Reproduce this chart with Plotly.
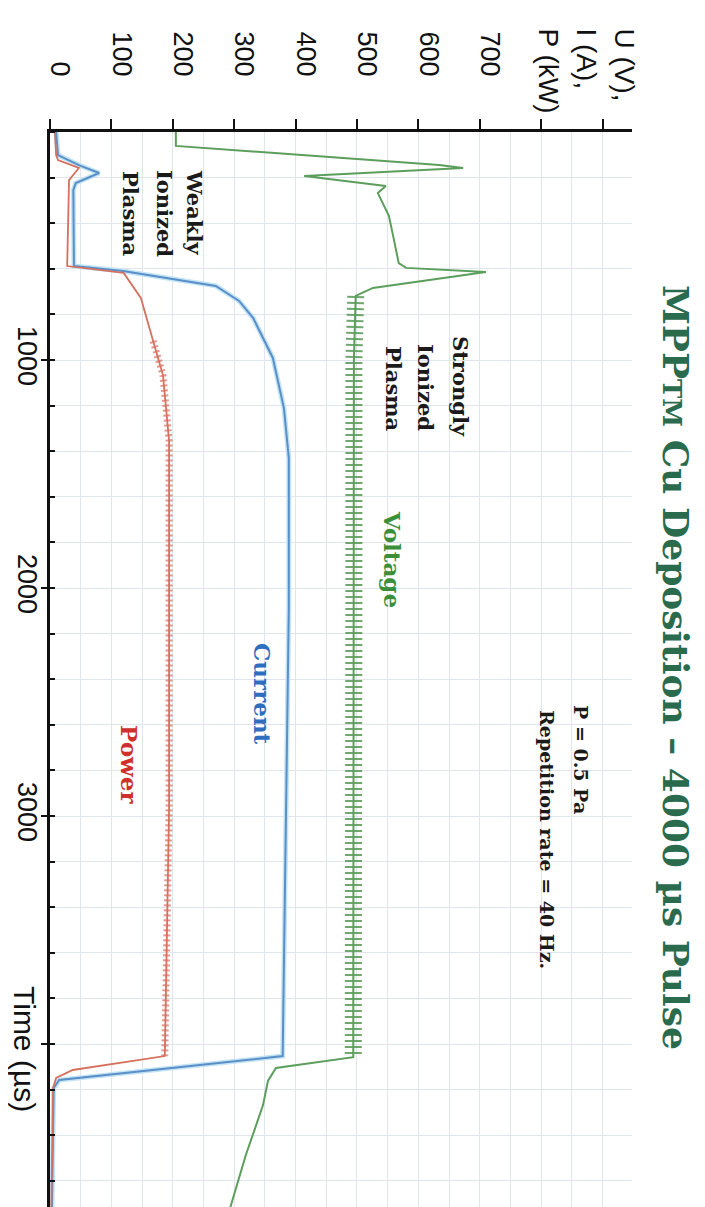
import plotly.graph_objects as go

# ---------------- data ----------------
# time in microseconds, values in V / A / kW
volt_t = [0, 61, 145, 158, 193, 237, 268, 300, 368, 470, 575, 596, 614, 684, 719,
          1000, 2000, 3000, 4058, 4105, 4162, 4268, 4487, 4750]
volt_v = [205, 205, 634, 673, 414, 547, 534, 540, 552, 560, 568, 580, 710, 526, 498,
          495, 495, 494, 494, 368, 355, 347, 319, 290]

cur_t = [0, 101, 145, 180, 224, 254, 588, 610, 675, 741, 816, 991, 1211, 1430,
         2088, 2965, 4053, 4158, 4193, 4750]
cur_v = [10, 13, 47, 80, 42, 38, 39, 119, 270, 308, 331, 363, 381, 389,
         389, 384, 379, 15, 6, 3]

pow_t = [0, 101, 123, 158, 211, 588, 618, 728, 917, 1066, 1355, 2965, 4053,
         4114, 4149, 4193, 4750]
pow_v = [8, 10, 13, 47, 31, 28, 120, 148, 168, 184, 194, 194, 187,
         37, 10, 5, 2]

value_ticks = [0, 100, 200, 300, 400, 500, 600, 700, 800, 900]
value_labels = ["0", "100", "200", "300", "400", "500", "600", "700", "", ""]
time_ticks = [1000, 2000, 3000, 4000]
time_labels = ["1000", "2000", "3000", ""]

# rippling parts of the pulse
volt_ripple_start, volt_ripple_end = 719, 4058
pow_ripple_start, pow_ripple_end = 917, 4053

# ---------------- layout geometry ----------------
W, H = 705, 1207
ML, MR, MT, MB = 42, 81, 124, 0
X_MAX, T_MAX = 948, 4750


def pxx(x):
    return (x - ML) / (W - ML - MR)


def pxy(y):
    return 1 - (y - MT) / (H - MT - MB)


GRID = "#dfe5ea"
SERIF = "DejaVu Serif"
SANS = "Liberation Sans"

fig = go.Figure()

# current
fig.add_trace(go.Scatter(x=cur_v, y=cur_t, mode="lines",
                         line=dict(color="#c3e4f4", width=5), hoverinfo="skip"))
fig.add_trace(go.Scatter(x=cur_v, y=cur_t, mode="lines",
                         line=dict(color="#5a8fc8", width=2), hoverinfo="skip"))

# power
p_idx = [i for i, t in enumerate(pow_t) if pow_ripple_start <= t <= pow_ripple_end]
fig.add_trace(go.Scatter(x=[pow_v[i] for i in p_idx], y=[pow_t[i] for i in p_idx], mode="lines",
                         line=dict(color="rgba(214,110,95,0.7)", width=7, dash="2px,3px"),
                         hoverinfo="skip"))
fig.add_trace(go.Scatter(x=pow_v, y=pow_t, mode="lines",
                         line=dict(color="#d6705f", width=1.8), hoverinfo="skip"))

# voltage
v_idx = [i for i, t in enumerate(volt_t) if volt_ripple_start <= t <= volt_ripple_end]
fig.add_trace(go.Scatter(x=[volt_v[i] for i in v_idx], y=[volt_t[i] for i in v_idx], mode="lines",
                         line=dict(color="rgba(75,145,75,0.8)", width=17, dash="2px,4px"),
                         hoverinfo="skip"))
fig.add_trace(go.Scatter(x=volt_v, y=volt_t, mode="lines",
                         line=dict(color="#5c9e5c", width=2), hoverinfo="skip"))

ann = []


def add_text(text, x, y, size, color, family=SERIF, bold=True, xanchor="center", yanchor="middle"):
    t = f"<b>{text}</b>" if bold else text
    ann.append(dict(text=t, x=pxx(x), y=pxy(y), xref="paper", yref="paper",
                    showarrow=False, textangle=90, xanchor=xanchor, yanchor=yanchor,
                    font=dict(family=family, size=size, color=color)))


# title
add_text('MPP<span style="font-size:26px">TM</span> Cu Deposition – 4000 µs Pulse',
         668, 659, 36, "#2a6b4d")
add_text("P = 0.5 Pa", 573, 751, 19, "#1a1a1a")
add_text("Repetition rate = 40 Hz.", 539, 831, 19, "#1a1a1a")

# phase labels
add_text("Weakly", 186, 204, 21, "#1a1a1a")
add_text("Ionized", 156, 205, 21, "#1a1a1a")
add_text("Plasma", 122, 205, 21, "#1a1a1a")
add_text("Strongly", 453, 378, 21, "#1a1a1a")
add_text("Ionized", 418, 379, 21, "#1a1a1a")
add_text("Plasma", 386, 380, 21, "#1a1a1a")

# series labels
add_text("Voltage", 385, 551, 23, "#3b8f3b")
add_text("Current", 255, 686, 23, "#2f6dbf")
add_text("Power", 122, 756, 23, "#d0302a")

# axis titles
add_text("U (V),", 616, 18, 28, "#111111", family=SANS, bold=False, yanchor="top")
add_text("I (A),", 578, 18, 28, "#111111", family=SANS, bold=False, yanchor="top")
add_text("P (kW)", 540, 18, 28, "#111111", family=SANS, bold=False, yanchor="top")
add_text("Time (µs)", 17, 1041, 30, "#111111", family=SANS, bold=False)

fig.update_layout(
    width=W, height=H,
    margin=dict(l=ML, r=MR, t=MT, b=MB, pad=0, autoexpand=False),
    paper_bgcolor="white", plot_bgcolor="white",
    showlegend=False,
    annotations=ann,
    xaxis=dict(
        side="top", range=[0, X_MAX], tickmode="array", automargin=False,
        tickvals=value_ticks, ticktext=value_labels,
        tickangle=90, ticks="outside", ticklen=10, tickwidth=2, tickcolor="#111",
        ticklabelstandoff=33, ticklabelshift=10,
        tickfont=dict(family=SANS, size=27, color="#111"),
        showline=True, linecolor="#111", linewidth=3,
        showgrid=True, gridcolor=GRID, gridwidth=1, zeroline=False,
        minor=dict(dtick=50, tick0=0, showgrid=True, gridcolor=GRID, gridwidth=1, ticks=""),
    ),
    yaxis=dict(
        range=[T_MAX, 0], tickmode="array", automargin=False,
        tickvals=time_ticks, ticktext=time_labels,
        tickangle=90, ticks="outside", ticklen=6, tickwidth=2, tickcolor="#111",
        ticklabelstandoff=-9,
        tickfont=dict(family=SANS, size=27, color="#111"),
        showline=True, linecolor="#111", linewidth=3,
        showgrid=True, gridcolor=GRID, gridwidth=1, zeroline=False,
        minor=dict(dtick=200, tick0=0, showgrid=True, gridcolor=GRID, gridwidth=1,
                   ticks="inside", ticklen=5, tickwidth=1.5, tickcolor="#111"),
    ),
)

fig.write_html("out.html")
